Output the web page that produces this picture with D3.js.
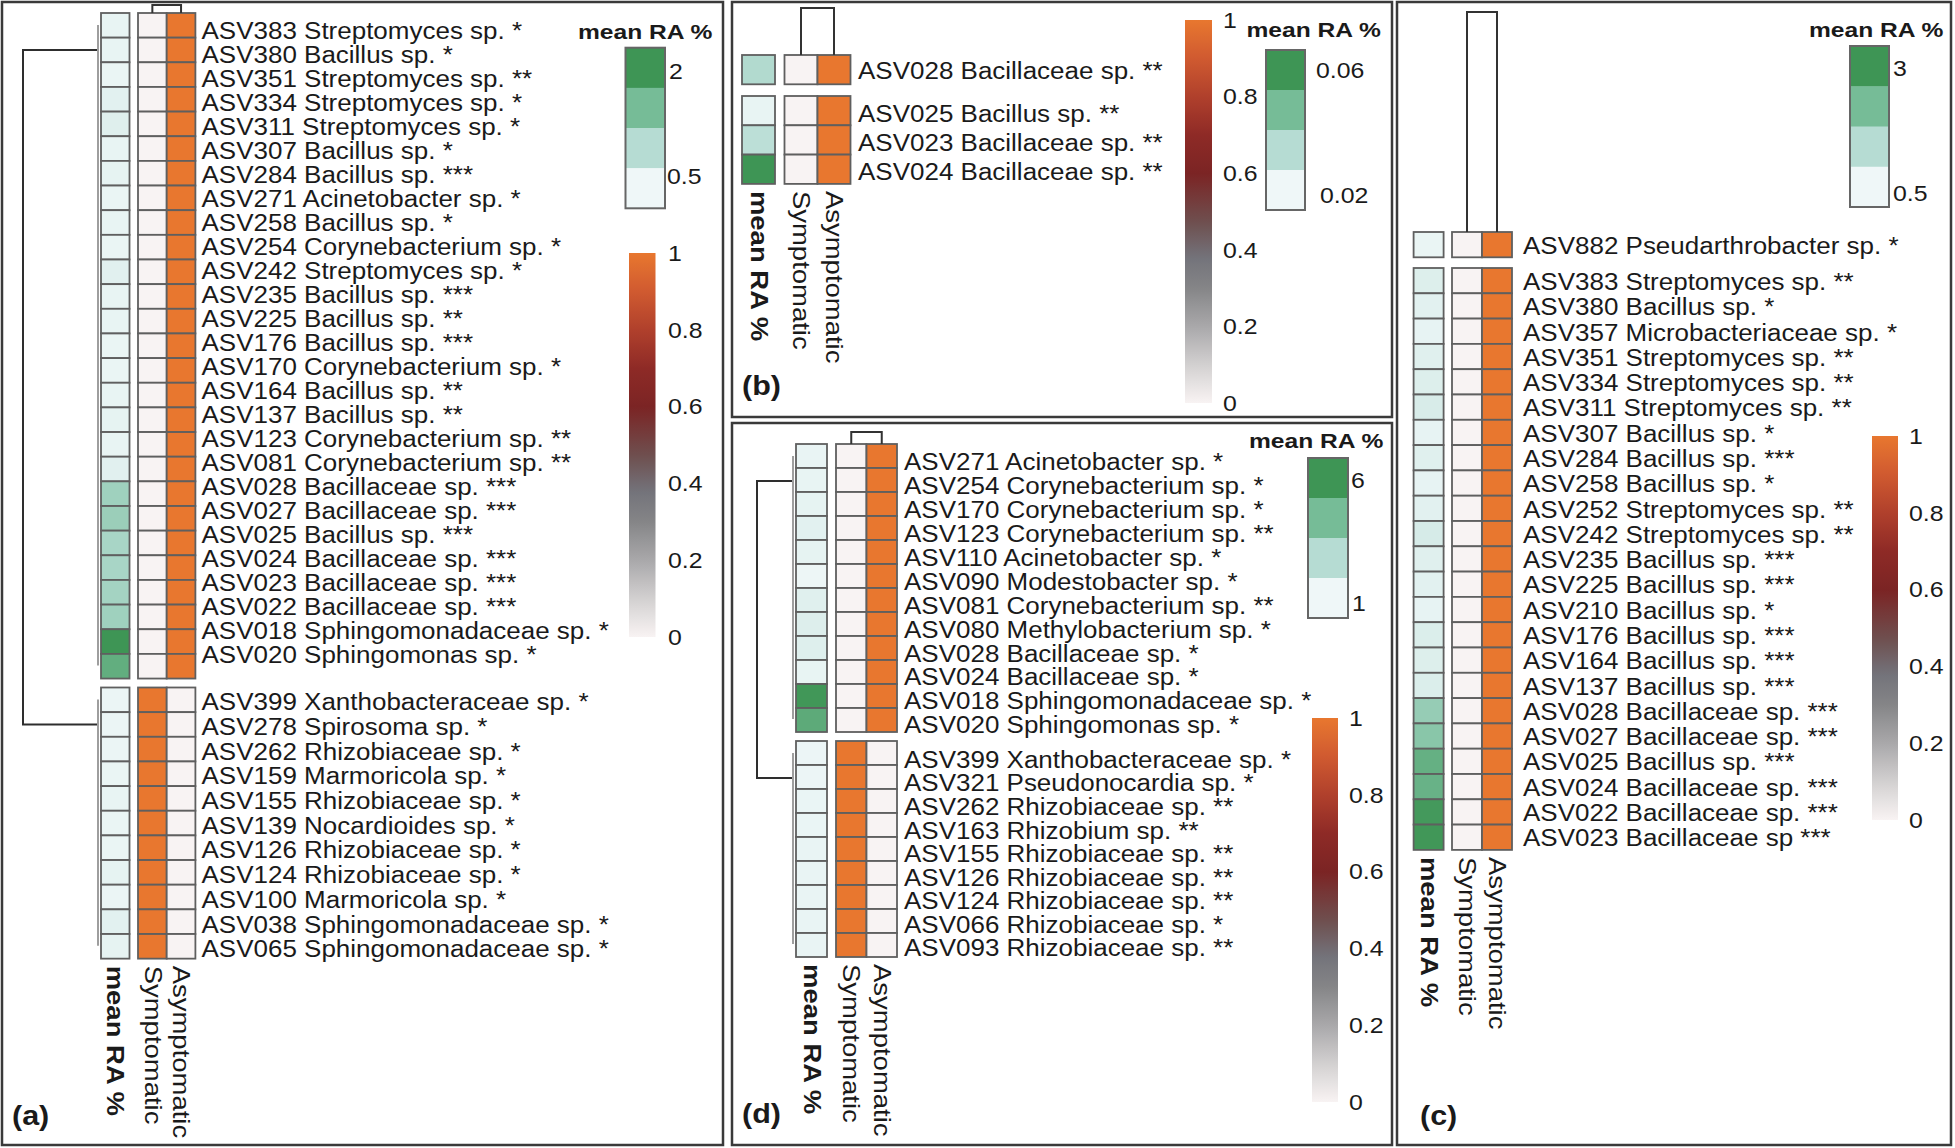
<!DOCTYPE html>
<html><head><meta charset="utf-8">
<script src="https://cdn.jsdelivr.net/npm/d3@7"></script>
<style>html,body{margin:0;padding:0;background:#fff}</style>
</head><body>
<svg id="chart" width="1955" height="1148"></svg>
<script>
// ================= DATA =================
const colNames = ["mean RA %", "Symptomatic", "Asymptomatic"];
const gradTicks = [1, 0.8, 0.6, 0.4, 0.2, 0];
const gradTickLabels = ["1", "0.8", "0.6", "0.4", "0.2", "0"];
const raTicksA = ["2", "0.5"];
const raTicksB = ["0.06", "0.02"];
const raTicksC = ["3", "0.5"];
const raTicksD = ["6", "1"];
const panelTags = ["(a)", "(b)", "(c)", "(d)"];

// Panel (a)
const aRows1 = ["ASV383 Streptomyces sp. *","ASV380 Bacillus sp. *","ASV351 Streptomyces sp. **","ASV334 Streptomyces sp. *","ASV311 Streptomyces sp. *","ASV307 Bacillus sp. *","ASV284 Bacillus sp. ***","ASV271 Acinetobacter sp. *","ASV258 Bacillus sp. *","ASV254 Corynebacterium sp. *","ASV242 Streptomyces sp. *","ASV235 Bacillus sp. ***","ASV225 Bacillus sp. **","ASV176 Bacillus sp. ***","ASV170 Corynebacterium sp. *","ASV164 Bacillus sp. **","ASV137 Bacillus sp. **","ASV123 Corynebacterium sp. **","ASV081 Corynebacterium sp. **","ASV028 Bacillaceae sp. ***","ASV027 Bacillaceae sp. ***","ASV025 Bacillus sp. ***","ASV024 Bacillaceae sp. ***","ASV023 Bacillaceae sp. ***","ASV022 Bacillaceae sp. ***","ASV018 Sphingomonadaceae sp. *","ASV020 Sphingomonas sp. *"];
const aMean1 = [0.12,0.12,0.1,0.2,0.25,0.12,0.15,0.1,0.12,0.1,0.22,0.12,0.12,0.1,0.1,0.12,0.15,0.12,0.22,1.05,1.1,0.95,0.95,1.0,1.05,2.2,1.75];
const aSym1  = [0,0,0,0,0,0,0,0,0,0,0,0,0,0,0,0,0,0,0,0,0,0,0,0,0,0,0];
const aAsym1 = [1,1,1,1,1,1,1,1,1,1,1,1,1,1,1,1,1,1,1,1,1,1,1,1,1,1,1];
const aRows2 = ["ASV399 Xanthobacteraceae sp. *","ASV278 Spirosoma sp. *","ASV262 Rhizobiaceae sp. *","ASV159 Marmoricola sp. *","ASV155 Rhizobiaceae sp. *","ASV139 Nocardioides sp. *","ASV126 Rhizobiaceae sp. *","ASV124 Rhizobiaceae sp. *","ASV100 Marmoricola sp. *","ASV038 Sphingomonadaceae sp. *","ASV065 Sphingomonadaceae sp. *"];
const aMean2 = [0.08,0.08,0.08,0.1,0.12,0.1,0.1,0.15,0.08,0.2,0.15];
const aSym2  = [1,1,1,1,1,1,1,1,1,1,1];
const aAsym2 = [0,0,0,0,0,0,0,0,0,0,0];

// Panel (b)
const bRows1 = ["ASV028 Bacillaceae sp. **"];
const bMean1 = [0.036];
const bSym1  = [0];
const bAsym1 = [1];
const bRows2 = ["ASV025 Bacillus sp. **","ASV023 Bacillaceae sp. **","ASV024 Bacillaceae sp. **"];
const bMean2 = [0.018,0.033,0.065];
const bSym2  = [0,0,0];
const bAsym2 = [1,1,1];

// Panel (c)
const cRows1 = ["ASV882 Pseudarthrobacter sp. *"];
const cMean1 = [0.15];
const cSym1  = [0];
const cAsym1 = [1];
const cRows2 = ["ASV383 Streptomyces sp. **","ASV380 Bacillus sp. *","ASV357 Microbacteriaceae sp. *","ASV351 Streptomyces sp. **","ASV334 Streptomyces sp. **","ASV311 Streptomyces sp. **","ASV307 Bacillus sp. *","ASV284 Bacillus sp. ***","ASV258 Bacillus sp. *","ASV252 Streptomyces sp. **","ASV242 Streptomyces sp. **","ASV235 Bacillus sp. ***","ASV225 Bacillus sp. ***","ASV210 Bacillus sp. *","ASV176 Bacillus sp. ***","ASV164 Bacillus sp. ***","ASV137 Bacillus sp. ***","ASV028 Bacillaceae sp. ***","ASV027 Bacillaceae sp. ***","ASV025 Bacillus sp. ***","ASV024 Bacillaceae sp. ***","ASV022 Bacillaceae sp. ***","ASV023 Bacillaceae sp ***"];
const cMean2 = [0.4,0.3,0.2,0.35,0.4,0.5,0.2,0.35,0.2,0.3,0.55,0.35,0.3,0.2,0.45,0.4,0.45,1.7,1.9,2.5,2.45,3.1,3.15];
const cSym2  = [0,0,0,0,0,0,0,0,0,0,0,0,0,0,0,0,0,0,0,0,0,0,0];
const cAsym2 = [1,1,1,1,1,1,1,1,1,1,1,1,1,1,1,1,1,1,1,1,1,1,1];

// Panel (d)
const dRows1 = ["ASV271 Acinetobacter sp. *","ASV254 Corynebacterium sp. *","ASV170 Corynebacterium sp. *","ASV123 Corynebacterium sp. **","ASV110 Acinetobacter sp. *","ASV090 Modestobacter sp. *","ASV081 Corynebacterium sp. **","ASV080 Methylobacterium sp. *","ASV028 Bacillaceae sp. *","ASV024 Bacillaceae sp. *","ASV018 Sphingomonadaceae sp. *","ASV020 Sphingomonas sp. *"];
const dMean1 = [0.3,0.35,0.4,0.55,0.4,0.15,0.65,0.75,0.7,0.35,6.4,5.3];
const dSym1  = [0,0,0,0,0,0,0,0,0,0,0,0];
const dAsym1 = [1,1,1,1,1,1,1,1,1,1,1,1];
const dRows2 = ["ASV399 Xanthobacteraceae sp. *","ASV321 Pseudonocardia sp. *","ASV262 Rhizobiaceae sp. **","ASV163 Rhizobium sp. **","ASV155 Rhizobiaceae sp. **","ASV126 Rhizobiaceae sp. **","ASV124 Rhizobiaceae sp. **","ASV066 Rhizobiaceae sp. *","ASV093 Rhizobiaceae sp. **"];
const dMean2 = [0.2,0.2,0.25,0.25,0.3,0.3,0.3,0.3,0.3];
const dSym2  = [1,1,1,1,1,1,1,1,1];
const dAsym2 = [0,0,0,0,0,0,0,0,0];

// colour scale parameters
const raDomainA = [0, 0.8, 1.5, 2.2];
const raDomainB = [0.015, 0.035, 0.05, 0.065];
const raDomainC = [0, 1.2, 2.2, 3.2];
const raDomainD = [0, 2.2, 4.3, 6.5];
const raColors = ["#F1F8F9", "#B6DCD3", "#76BC97", "#3E9555"];
const raBandColors = ["#3E9555", "#76BC97", "#B6DCD3", "#EFF7F8"];
const gradStops  = [0, 0.1, 0.2, 0.3, 0.38, 0.47, 0.6, 0.7, 0.8, 0.9, 1];
const gradColors = ["#F8F3F3","#D2D0D0","#A9A8AA","#858587","#73737A","#6E5050","#7B2424","#8E2A26","#B0402C","#D05A30","#E8772F"];

// ================= LAYOUT =================
const FONT = "'Liberation Sans', Arial, Helvetica, sans-serif";
const SX = 1.13;
const LABEL_FS = 23, TICK_FS = 22, COL_FS = 23.5, TITLE_FS = 20.5, TAG_FS = 27;
const INK = "#1a1a1a";

const panels = [
  { tag: panelTags[0], box:[2,2,723,1145], meanX:101, meanW:28.5, hmX:138, cellW:28.7, rowH:24.65,
    groups:[{rows:aRows1, mean:aMean1, sym:aSym1, asym:aAsym1, top:13, span:[30.6,654.5]},
            {rows:aRows2, mean:aMean2, sym:aSym2, asym:aAsym2, top:687.5, span:[702,949]}],
    labelX:201.5, bracketTop:5, dendroRootX:23, raDomain:raDomainA, raTicks:raTicksA,
    ra:{titleX:578, titleY:39, x:625.5, w:39.5, y:47.7, h:160.6, labelX:[669,667], labelDy:[3,-12]},
    grad:{x:629, w:26.5, y:253, h:384, labelX:668}, tagPos:[12,1125] },
  { tag: panelTags[1], box:[732,2,1392,417], meanX:742, meanW:33, hmX:784.5, cellW:33, rowH:29.3,
    groups:[{rows:bRows1, mean:bMean1, sym:bSym1, asym:bAsym1, top:55, span:[70.5,70.5]},
            {rows:bRows2, mean:bMean2, sym:bSym2, asym:bAsym2, top:96, span:[114,171.7]}],
    labelX:858, bracketTop:8, dendroRootX:null, raDomain:raDomainB, raTicks:raTicksB,
    ra:{titleX:1246.5, titleY:37, x:1266, w:39, y:50, h:160, labelX:[1316,1320], labelDy:[0,5]},
    grad:{x:1185, w:27, y:20, h:383, labelX:1223}, tagPos:[742,395] },
  { tag: panelTags[2], box:[1397,2,1951,1145], meanX:1413.6, meanW:30, hmX:1452, cellW:30, rowH:25.3,
    groups:[{rows:cRows1, mean:cMean1, sym:cSym1, asym:cAsym1, top:232, span:[246,246]},
            {rows:cRows2, mean:cMean2, sym:cSym2, asym:cAsym2, top:268, span:[281.7,838]}],
    labelX:1523, bracketTop:12, dendroRootX:null, raDomain:raDomainC, raTicks:raTicksC,
    ra:{titleX:1809, titleY:37, x:1850, w:39, y:46, h:161, labelX:[1893,1893], labelDy:[2,6]},
    grad:{x:1872, w:26, y:436, h:384, labelX:1909}, tagPos:[1420,1125] },
  { tag: panelTags[3], box:[732,423,1392,1145], meanX:796, meanW:31, hmX:836, cellW:30.5, rowH:24,
    groups:[{rows:dRows1, mean:dMean1, sym:dSym1, asym:dAsym1, top:444, span:[462,725]},
            {rows:dRows2, mean:dMean2, sym:dSym2, asym:dAsym2, top:741, span:[759.7,948]}],
    labelX:904, bracketTop:432, dendroRootX:757, raDomain:raDomainD, raTicks:raTicksD,
    ra:{titleX:1249, titleY:448, x:1308, w:40, y:458, h:160, labelX:[1351,1352], labelDy:[2,5]},
    grad:{x:1312, w:26, y:718, h:384, labelX:1349}, tagPos:[742,1123] }
];

// ================= DRAW =================
const svg = d3.select("#chart");
svg.append("rect").attr("width",1955).attr("height",1148).attr("fill","#fff");
const gradScale = d3.scaleLinear().domain(gradStops).range(gradColors).clamp(true);

const defs = svg.append("defs");
const lg = defs.append("linearGradient").attr("id","hmGrad")
  .attr("x1","0").attr("y1","1").attr("x2","0").attr("y2","0");
d3.range(0, 1.0001, 0.025).forEach(t => {
  lg.append("stop").attr("offset", t).attr("stop-color", gradScale(t));
});

function sText(sel, x, y, txt, o = {}) {
  const fs = o.fs || LABEL_FS;
  return sel.append("text")
    .attr("transform", `translate(${x},${y})${o.rotate ? " rotate(90)" : ""} scale(${o.sx || SX},1)`)
    .attr("font-family", FONT).attr("font-size", fs)
    .attr("font-weight", o.bold ? "bold" : "normal")
    .attr("text-anchor", o.anchor || "start")
    .attr("fill", INK).text(txt);
}

panels.forEach(P => {
  const g = svg.append("g");
  const [bx0, by0, bx1, by1] = P.box;
  g.append("rect").attr("x", bx0).attr("y", by0).attr("width", bx1 - bx0).attr("height", by1 - by0)
    .attr("fill", "none").attr("stroke", "#3a3a3a").attr("stroke-width", 2.5);

  const raScale = d3.scaleLinear().domain(P.raDomain).range(raColors).clamp(true);
  const xHM = d3.scaleBand().domain(["Symptomatic", "Asymptomatic"]).range([P.hmX, P.hmX + 2 * P.cellW]);

  let lastBottom = 0;
  const groupExt = [];
  P.groups.forEach(gr => {
    const n = gr.rows.length;
    const y = d3.scaleBand().domain(d3.range(n)).range([gr.top, gr.top + n * P.rowH]);
    const bottom = gr.top + n * P.rowH;
    lastBottom = bottom;
    groupExt.push([gr.top, bottom]);
    // mean RA cells
    g.selectAll(null).data(gr.mean).enter().append("rect")
      .attr("x", P.meanX).attr("y", (d, i) => y(i)).attr("width", P.meanW).attr("height", y.bandwidth())
      .attr("fill", d => raScale(d)).attr("stroke", "#5f5f5f").attr("stroke-width", 1.8);
    // Sym / Asym cells
    const cells = [];
    gr.sym.forEach((v, i) => cells.push({c: "Symptomatic", i, v}));
    gr.asym.forEach((v, i) => cells.push({c: "Asymptomatic", i, v}));
    g.selectAll(null).data(cells).enter().append("rect")
      .attr("x", d => xHM(d.c)).attr("y", d => y(d.i)).attr("width", xHM.bandwidth()).attr("height", y.bandwidth())
      .attr("fill", d => gradScale(d.v)).attr("stroke", "#5f5f5f").attr("stroke-width", 1.8);
    // labels
    const yl = d3.scalePoint().domain(d3.range(n)).range(gr.span);
    gr.rows.forEach((t, i) => {
      sText(g, P.labelX, (n === 1 ? gr.span[0] : yl(i)) + 0.358 * LABEL_FS, t);
    });
  });

  // column dendrogram bracket
  const cS = xHM("Symptomatic") + xHM.bandwidth() / 2, cA = xHM("Asymptomatic") + xHM.bandwidth() / 2;
  const top0 = P.groups[0].top;
  g.append("path").attr("d", `M${cS},${top0}V${P.bracketTop}H${cA}V${top0}`)
    .attr("fill", "none").attr("stroke", "#333").attr("stroke-width", 2);

  // row dendrogram
  if (P.dendroRootX !== null) {
    const leafX = P.meanX - 3;
    const br = groupExt.map(e => e[0] + 37);
    g.append("path").attr("d", `M${leafX - 1},${br[0]}H${P.dendroRootX}V${br[1]}H${leafX - 1}`)
      .attr("fill", "none").attr("stroke", "#2e2e2e").attr("stroke-width", 2);
    groupExt.forEach(e => {
      g.append("line").attr("x1", leafX).attr("x2", leafX).attr("y1", e[0] + 12).attr("y2", e[1] - 13)
        .attr("stroke", "#6a6a6a").attr("stroke-width", 1.3);
    });
  }

  // rotated column labels
  const colCenters = [P.meanX + P.meanW / 2, cS, cA];
  colNames.forEach((nm, i) => {
    sText(g, colCenters[i] - 0.33 * COL_FS, lastBottom + 7, nm, {fs: COL_FS, rotate: true, bold: i === 0, sx: 1.17});
  });

  // mean RA legend
  sText(g, P.ra.titleX, P.ra.titleY, "mean RA %", {fs: TITLE_FS, bold: true, sx: 1.2});
  const yb = d3.scaleBand().domain(d3.range(4)).range([P.ra.y, P.ra.y + P.ra.h]);
  g.selectAll(null).data(raBandColors).enter().append("rect")
    .attr("x", P.ra.x).attr("y", (d, i) => yb(i)).attr("width", P.ra.w).attr("height", yb.bandwidth() + 0.5)
    .attr("fill", d => d);
  g.append("rect").attr("x", P.ra.x).attr("y", P.ra.y).attr("width", P.ra.w).attr("height", P.ra.h)
    .attr("fill", "none").attr("stroke", "#666").attr("stroke-width", 2);
  sText(g, P.ra.labelX[0], yb(0) + yb.bandwidth() / 2 + P.ra.labelDy[0] + 0.358 * TICK_FS, P.raTicks[0], {fs: TICK_FS});
  sText(g, P.ra.labelX[1], yb(3) + yb.bandwidth() / 2 + P.ra.labelDy[1] + 0.358 * TICK_FS, P.raTicks[1], {fs: TICK_FS});

  // gradient legend
  const yg = d3.scaleLinear().domain([0, 1]).range([P.grad.y + P.grad.h, P.grad.y]);
  g.append("rect").attr("x", P.grad.x).attr("y", yg(1)).attr("width", P.grad.w).attr("height", yg(0) - yg(1))
    .attr("fill", "url(#hmGrad)");
  gradTicks.forEach((t, i) => {
    sText(g, P.grad.labelX, yg(t) + 0.358 * TICK_FS, gradTickLabels[i], {fs: TICK_FS});
  });

  // panel tag
  sText(g, P.tagPos[0], P.tagPos[1], P.tag, {fs: TAG_FS, bold: true});
});
</script>
</body></html>
